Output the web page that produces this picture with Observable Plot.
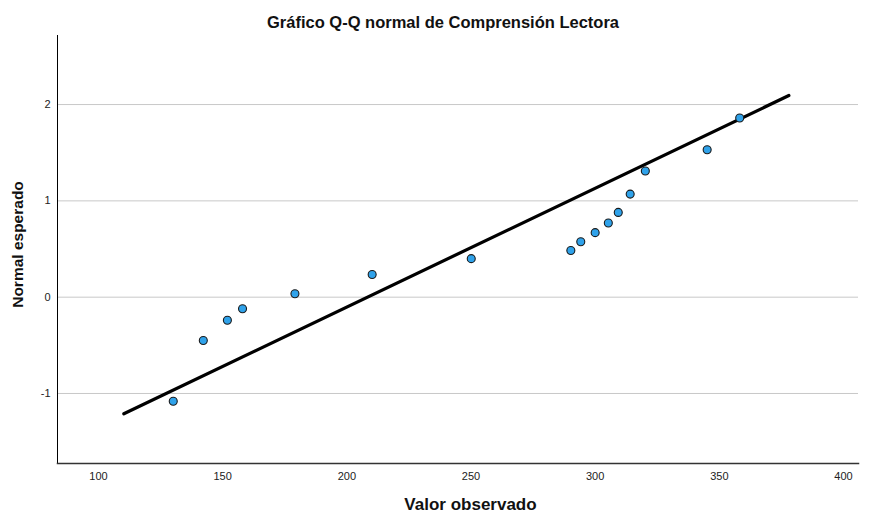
<!DOCTYPE html>
<html>
<head>
<meta charset="utf-8">
<script src="https://cdn.jsdelivr.net/npm/d3@7"></script>
<script src="https://cdn.jsdelivr.net/npm/@observablehq/plot@0.6"></script>
<style>
html, body { margin: 0; padding: 0; background: #fff; }
svg { display: block; }
</style>
</head>
<body>
<div id="chart"></div>
<script>
// Observed values and expected normal values
const observed = [130.1, 142.2, 151.9, 158.0, 179.1, 210.2, 250.1, 290.2, 294.2, 300.0, 305.3, 309.3, 314.1, 320.2, 345.1, 358.2];
const expected = [-1.08, -0.45, -0.24, -0.12, 0.035, 0.236, 0.40, 0.485, 0.575, 0.67, 0.77, 0.88, 1.07, 1.31, 1.53, 1.86];
// Reference line endpoints
const lineX = [110.2, 378.0];
const lineY = [-1.211, 2.094];
// Ticks
const xTicks = [100, 150, 200, 250, 300, 350, 400];
const yTicks = [-1, 0, 1, 2];

const points = observed.map((v, i) => ({x: v, y: expected[i]}));
const line = lineX.map((v, i) => ({x: v, y: lineY[i]}));

const font = "Liberation Sans, Arial, sans-serif";
const W = 872, H = 513;

const chart = Plot.plot({
  width: W,
  height: H,
  marginLeft: 57,
  marginRight: 14,
  marginTop: 35,
  marginBottom: 50,
  style: {fontFamily: font, background: "#fff"},
  x: {domain: [83.49, 406.04], axis: null},
  y: {domain: [-1.727, 2.717], axis: null},
  marks: [
    Plot.ruleY(yTicks, {stroke: "#c8c8c8", strokeWidth: 1}),
    Plot.frame({anchor: "left", stroke: "#000", strokeWidth: 1}),
    Plot.frame({anchor: "bottom", stroke: "#333", strokeWidth: 1.5}),
    Plot.axisX(xTicks, {tickSize: 0, tickPadding: 9, fontSize: 11, fill: "#222", stroke: null, label: null, tickFormat: d => String(d)}),
    Plot.axisY(yTicks, {tickSize: 0, tickPadding: 7, fontSize: 11, fill: "#222", stroke: null, label: null, tickFormat: d => String(d)}),
    Plot.line(line, {x: "x", y: "y", stroke: "#000", strokeWidth: 3.2}),
    Plot.dot(points, {x: "x", y: "y", r: 4, fill: "#2fa2ea", stroke: "#1a1a1a", strokeWidth: 1.1}),
    Plot.text(["Gráfico Q-Q normal de Comprensión Lectora"], {frameAnchor: "top", textAnchor: "middle", dx: -15, dy: -19, fontSize: 16.5, fontWeight: "bold", fill: "#111"}),
    Plot.text(["Valor observado"], {frameAnchor: "bottom", textAnchor: "middle", dx: 12.5, dy: 46, fontSize: 17, fontWeight: "bold", fill: "#111"}),
    Plot.text(["Normal esperado"], {frameAnchor: "left", textAnchor: "middle", dx: -39, dy: -5, rotate: -90, fontSize: 15.5, fontWeight: "bold", fill: "#111"})
  ]
});
document.getElementById("chart").appendChild(chart);
</script>
</body>
</html>
